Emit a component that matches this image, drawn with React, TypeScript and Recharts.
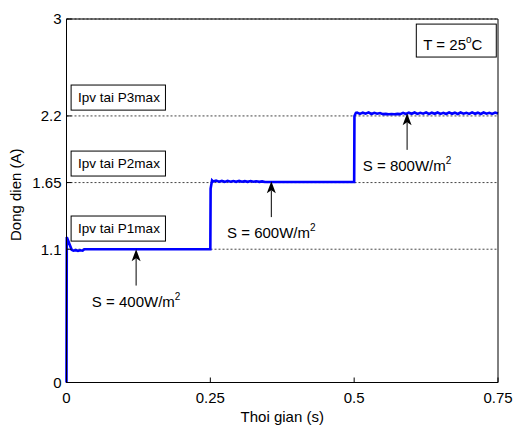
import {
  LineChart, Line, XAxis, YAxis, CartesianGrid,
  ReferenceArea, ReferenceLine,
} from 'recharts'

const FONT = "'Liberation Sans', Arial, sans-serif"

// startup transient, then the 400 W/m2 plateau
const T_400 = [0, 0.0005, 0.009, 0.012, 0.016, 0.02, 0.024, 0.028, 0.031, 0.25]
const I_400 = [0, 1.2, 1.095, 1.088, 1.092, 1.087, 1.091, 1.088, 1.1, 1.1]

// step to 600 W/m2
const T_600 = [
  0.2505, 0.253, 0.255, 0.26, 0.265, 0.27, 0.275, 0.28, 0.285, 0.29, 0.295,
  0.3, 0.305, 0.31, 0.315, 0.32, 0.325, 0.33, 0.335, 0.34, 0.345, 0.5,
]
const I_600 = [
  1.6, 1.668, 1.658, 1.666, 1.657, 1.664, 1.656, 1.665, 1.657, 1.663, 1.656,
  1.664, 1.657, 1.662, 1.656, 1.663, 1.657, 1.661, 1.656, 1.66, 1.655, 1.655,
]

// step to 800 W/m2
const T_800 = [
  0.5005, 0.503, 0.505, 0.51, 0.515, 0.52, 0.525, 0.53, 0.535, 0.54, 0.545,
  0.55, 0.555, 0.56, 0.565, 0.57, 0.575, 0.58, 0.585, 0.59, 0.595, 0.6,
  0.605, 0.61, 0.615, 0.62, 0.625, 0.63, 0.635, 0.64, 0.645, 0.65, 0.655,
  0.66, 0.665, 0.67, 0.675, 0.68, 0.685, 0.69, 0.695, 0.7, 0.705, 0.71,
  0.715, 0.72, 0.725, 0.73, 0.735, 0.74, 0.745, 0.75,
]
const I_800 = [
  2.2, 2.226, 2.228, 2.217, 2.227, 2.219, 2.229, 2.216, 2.226, 2.218, 2.224,
  2.215, 2.217, 2.214, 2.216, 2.214, 2.217, 2.215, 2.225, 2.216, 2.227, 2.218,
  2.228, 2.217, 2.226, 2.219, 2.229, 2.216, 2.227, 2.218, 2.228, 2.217, 2.226,
  2.216, 2.229, 2.218, 2.227, 2.216, 2.228, 2.219, 2.226, 2.217, 2.229, 2.218,
  2.227, 2.216, 2.228, 2.219, 2.226, 2.217, 2.228, 2.22,
]

const X_TICKS = [0, 0.25, 0.5, 0.75]
const Y_TICKS = [0, 1.1, 1.65, 2.2, 3]

// irradiance annotations: arrow x, arrow tip and tail current
const IRRADIANCE = [400, 600, 800]
const ARROW_T = [0.121, 0.356, 0.592]
const ARROW_TIP = [1.1, 1.66, 2.222]
const ARROW_TAIL = [0.8, 1.365, 1.92]

// MPP current boxes
const MPP_LABELS = ['Ipv tai P1max', 'Ipv tai P2max', 'Ipv tai P3max']
const MPP_TOP = [1.374, 1.91, 2.455]
const MPP_BOTTOM = [1.167, 1.704, 2.248]

const data = [
  ...T_400.map((t, k) => ({ t, i: I_400[k] })),
  ...T_600.map((t, k) => ({ t, i: I_600[k] })),
  ...T_800.map((t, k) => ({ t, i: I_800[k] })),
]

function Arrow(props: any) {
  const { x1, y1, y2, value } = props
  const x = x1
  const tip = Math.min(y1, y2)
  const tail = Math.max(y1, y2)
  return (
    <g>
      <line x1={x} y1={tail} x2={x} y2={tip + 9} stroke="#000" strokeWidth={1} />
      <polygon
        points={`${x},${tip} ${x - 4.5},${tip + 12} ${x},${tip + 9} ${x + 4.5},${tip + 12}`}
        fill="#000"
      />
      <text x={x} y={tail + 21} textAnchor="middle" fontSize={15} fill="#000">
        {`S = ${value}W/m`}
        <tspan fontSize={10} dy={-7}>2</tspan>
      </text>
    </g>
  )
}

const boxShape = (label: string) => (p: any) => (
  <g>
    <rect x={p.x} y={p.y} width={p.width} height={p.height} fill="#fff" stroke="#000" strokeWidth={1} />
    <text x={p.x + 7} y={p.y + p.height / 2 + 4.5} fontSize={13.5} fill="#000">{label}</text>
  </g>
)

const tempShape = (p: any) => (
  <g>
    <rect x={p.x} y={p.y} width={p.width} height={p.height} fill="#fff" stroke="#000" strokeWidth={1} />
    <text x={p.x + 7} y={p.y + p.height - 7} fontSize={15} fill="#000">
      T = 25
      <tspan fontSize={10} dy={-7}>o</tspan>
      <tspan fontSize={15} dy={7}>C</tspan>
    </text>
  </g>
)

const xLabel = (props: any) => {
  const vb = props.viewBox
  if (!vb) return null
  return (
    <text x={vb.x + vb.width / 2} y={vb.y + 39} textAnchor="middle" fontSize={15} fill="#000">
      Thoi gian (s)
    </text>
  )
}

const yLabel = (props: any) => {
  const vb = props.viewBox
  if (!vb) return null
  return (
    <text
      transform={`translate(${vb.x + 13}, ${vb.y + vb.height / 2 - 6}) rotate(-90)`}
      textAnchor="middle"
      fontSize={15}
      fill="#000"
    >
      Dong dien (A)
    </text>
  )
}

export default function App() {
  return (
    <div style={{ position: 'absolute', left: 0, top: 0, width: 516, height: 425, fontFamily: FONT }}>
      <LineChart width={516} height={425} data={data} margin={{ top: 18, right: 17, bottom: 0, left: 8 }}>
        <CartesianGrid horizontal vertical={false} stroke="#444" strokeDasharray="2 2" />
        <XAxis
          dataKey="t"
          type="number"
          domain={[0, 0.75]}
          ticks={X_TICKS}
          interval={0}
          tickSize={-5}
          tickMargin={14.5}
          height={42.5}
          stroke="#000"
          tick={{ fill: '#000', fontSize: 15 }}
          label={xLabel}
        />
        <XAxis
          xAxisId="top"
          orientation="top"
          type="number"
          domain={[0, 0.75]}
          ticks={X_TICKS}
          interval={0}
          tick={false}
          tickSize={-5}
          height={1}
          stroke="#000"
        />
        <YAxis
          type="number"
          domain={[0, 3]}
          ticks={Y_TICKS}
          interval={0}
          tickSize={-5}
          tickMargin={10}
          width={58.5}
          stroke="#000"
          tick={{ fill: '#000', fontSize: 15 }}
          label={yLabel}
        />
        <YAxis
          yAxisId="right"
          orientation="right"
          type="number"
          domain={[0, 3]}
          ticks={Y_TICKS}
          interval={0}
          tick={false}
          tickSize={-5}
          width={1}
          stroke="#000"
        />
        <Line
          dataKey="i"
          type="linear"
          stroke="#0000ff"
          strokeWidth={2.6}
          dot={false}
          isAnimationActive={false}
        />
        {MPP_LABELS.map((label, k) => (
          <ReferenceArea
            key={label}
            x1={0.008}
            x2={0.172}
            y1={MPP_BOTTOM[k]}
            y2={MPP_TOP[k]}
            shape={boxShape(label)}
          />
        ))}
        <ReferenceArea x1={0.608} x2={0.747} y1={2.686} y2={2.958} shape={tempShape} />
        {IRRADIANCE.map((s, k) => (
          <ReferenceLine
            key={s}
            segment={[{ x: ARROW_T[k], y: ARROW_TAIL[k] }, { x: ARROW_T[k], y: ARROW_TIP[k] }]}
            shape={(p: any) => <Arrow {...p} value={s} />}
          />
        ))}
      </LineChart>
    </div>
  )
}
